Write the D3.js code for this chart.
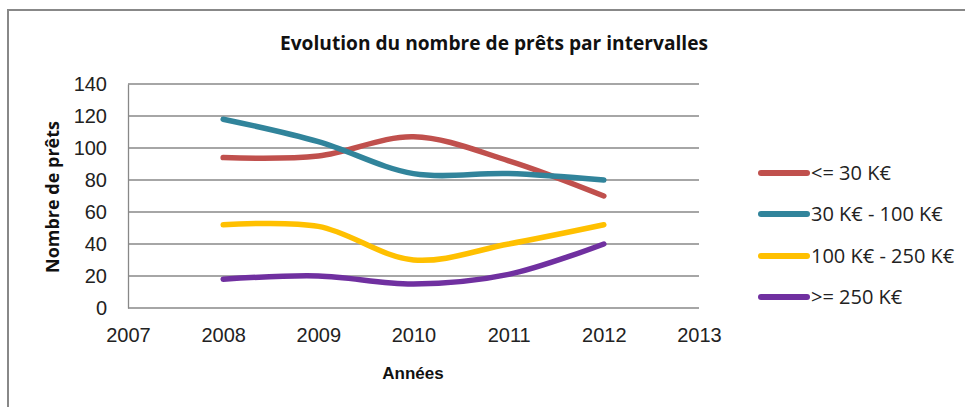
<!DOCTYPE html>
<html>
<head>
<meta charset="utf-8">
<script src="https://cdn.jsdelivr.net/npm/d3@7"></script>
<style>
  body { margin: 0; background: #fff; }
  svg { display: block; }
</style>
</head>
<body>
<script>
// data
const years = [2008, 2009, 2010, 2011, 2012];
const seriesNames = ["<= 30 K€", "30 K€ - 100 K€", "100 K€ - 250 K€", ">= 250 K€"];
const seriesColors = ["#C0504D", "#31849B", "#FFC000", "#7030A0"];
const small = [94, 95, 107, 92, 70];
const mid = [118, 104, 84, 84, 80];
const large = [52, 51, 30, 40, 52];
const huge = [18, 20, 15, 21, 40];
const yTicks = [0, 20, 40, 60, 80, 100, 120, 140];
const xTicks = [2007, 2008, 2009, 2010, 2011, 2012, 2013];

const width = 965, height = 407;
const plot = {left: 128, right: 699, top: 84, bottom: 308};

const svg = d3.select("body").append("svg")
  .attr("width", width)
  .attr("height", height);

// chart border (only left and top visible)
svg.append("rect")
  .attr("x", 8).attr("y", 10)
  .attr("width", 1000).attr("height", 500)
  .attr("fill", "none")
  .attr("stroke", "#888")
  .attr("stroke-width", 2);

const x = d3.scaleLinear().domain([2007, 2013]).range([plot.left, plot.right]);
const y = d3.scaleLinear().domain([0, 140]).range([plot.bottom, plot.top]);

// gridlines
svg.append("g")
  .selectAll("line")
  .data(yTicks)
  .join("line")
  .attr("x1", plot.left).attr("x2", plot.right)
  .attr("y1", d => y(d)).attr("y2", d => y(d))
  .attr("stroke", "#888")
  .attr("stroke-width", 1.3);

// y axis
const yAxis = d3.axisLeft(y).tickValues(yTicks).tickSize(0).tickPadding(21);
const yg = svg.append("g").attr("transform", "translate(" + plot.left + ",0)").call(yAxis);
yg.select(".domain").attr("stroke", "#888").attr("stroke-width", 1.3);
yg.selectAll("text")
  .attr("font-family", "Liberation Sans, Arial, sans-serif")
  .attr("font-size", 20).attr("fill", "#222");

// x axis (labels only)
const xAxis = d3.axisBottom(x).tickValues(xTicks).tickFormat(d3.format("d")).tickSize(0).tickPadding(20);
const xg = svg.append("g").attr("transform", "translate(0," + plot.bottom + ")").call(xAxis);
xg.select(".domain").remove();
xg.selectAll("text")
  .attr("font-family", "Liberation Sans, Arial, sans-serif")
  .attr("font-size", 20).attr("fill", "#222");

// lines
const allSeries = [small, mid, large, huge];
const line = d3.line()
  .x((d, i) => x(years[i]))
  .y(d => y(d))
  .curve(d3.curveCatmullRom.alpha(0.5));

svg.append("g")
  .selectAll("path")
  .data(allSeries)
  .join("path")
  .attr("d", d => line(d))
  .attr("fill", "none")
  .attr("stroke", (d, i) => seriesColors[i])
  .attr("stroke-width", 5.5)
  .attr("stroke-linecap", "round");

// title
svg.append("text")
  .attr("x", 494).attr("y", 50)
  .attr("text-anchor", "middle")
  .attr("font-family", "Open Sans, sans-serif")
  .attr("font-weight", "bold")
  .attr("font-size", 19)
  .attr("textLength", 428)
  .attr("lengthAdjust", "spacingAndGlyphs")
  .attr("fill", "#111")
  .text("Evolution du nombre de prêts par intervalles");

// axis titles
svg.append("text")
  .attr("transform", "translate(59,197) rotate(-90)")
  .attr("text-anchor", "middle")
  .attr("font-family", "Open Sans, sans-serif")
  .attr("font-weight", "bold")
  .attr("font-size", 18)
  .attr("fill", "#111")
  .text("Nombre de prêts");

svg.append("text")
  .attr("x", 413).attr("y", 379)
  .attr("text-anchor", "middle")
  .attr("font-family", "Liberation Sans, Arial, sans-serif")
  .attr("font-weight", "bold")
  .attr("font-size", 17)
  .attr("fill", "#111")
  .text("Années");

// legend
const legendY = [173, 214, 256, 297];
const lg = svg.append("g")
  .selectAll("g")
  .data(seriesNames)
  .join("g")
  .attr("transform", (d, i) => "translate(0," + legendY[i] + ")");
lg.append("line")
  .attr("x1", 761).attr("x2", 807)
  .attr("stroke", (d, i) => seriesColors[i])
  .attr("stroke-width", 6)
  .attr("stroke-linecap", "round");
lg.append("text")
  .attr("x", 811).attr("y", 7)
  .attr("font-family", "Open Sans, sans-serif")
  .attr("font-size", 20)
  .attr("fill", "#222")
  .text(d => d);
</script>
</body>
</html>
